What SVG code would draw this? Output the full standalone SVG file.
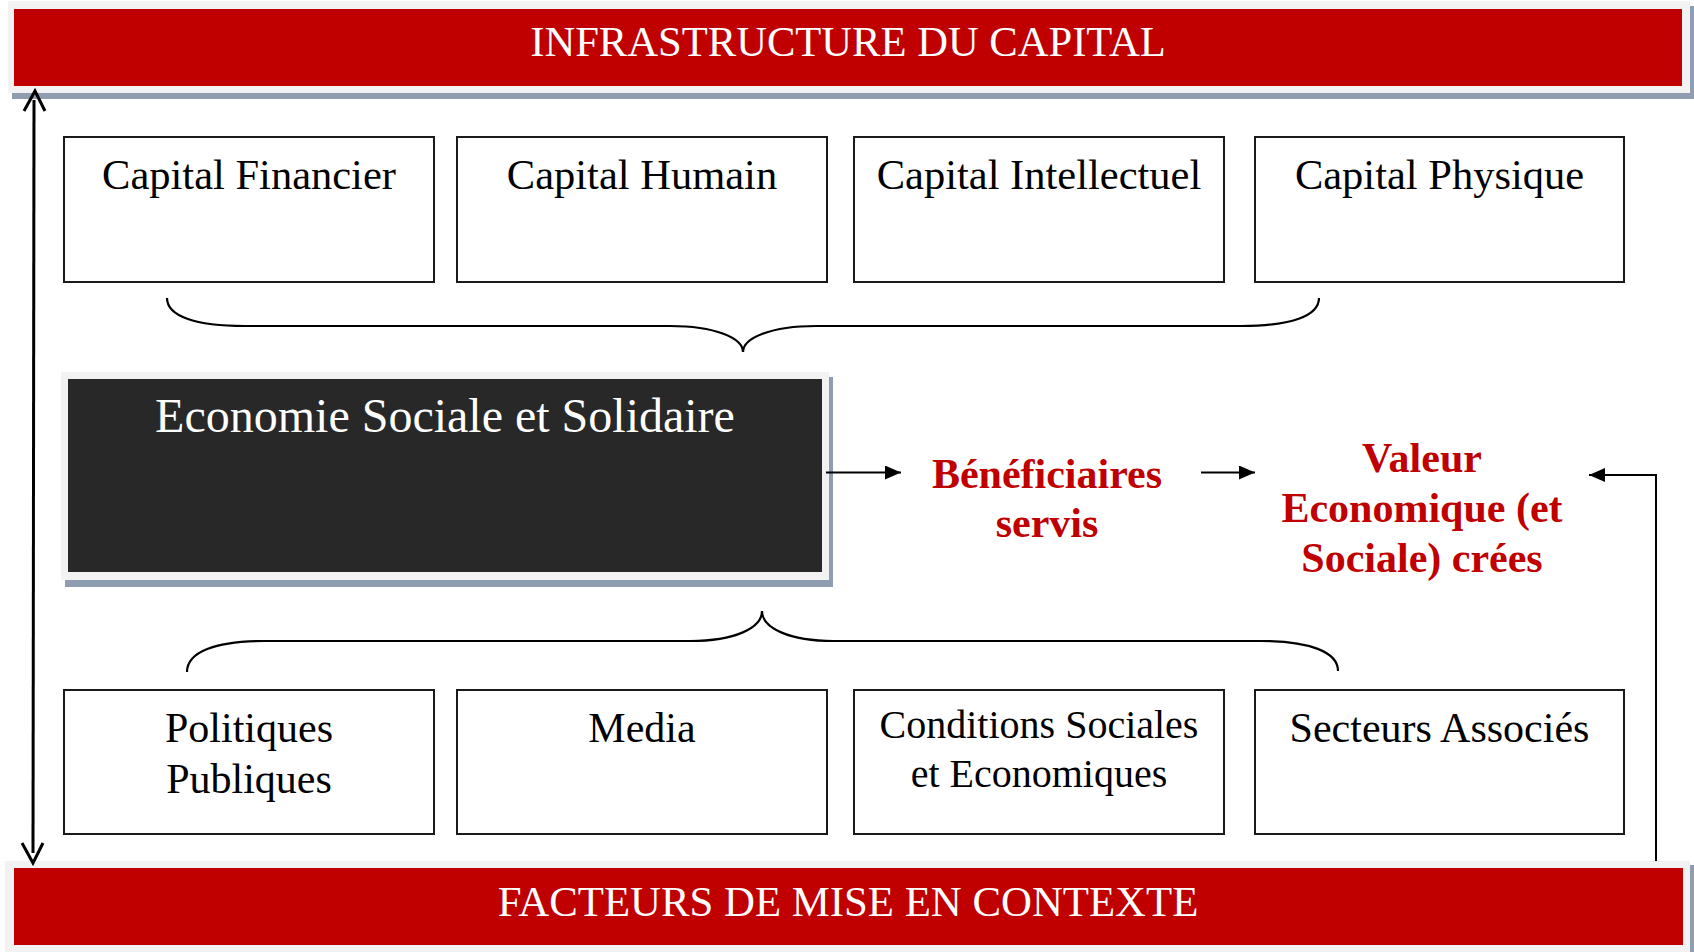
<svg xmlns="http://www.w3.org/2000/svg" width="1694" height="952" viewBox="0 0 1694 952">
<defs>
<style>
.box{fill:#fff;stroke:#1a1a1a;stroke-width:2}
.t{font-family:"Liberation Serif","Times New Roman",serif;fill:#000;text-anchor:middle}
.w{font-family:"Liberation Serif","Times New Roman",serif;fill:#fff;text-anchor:middle}
.r{font-family:"Liberation Serif","Times New Roman",serif;fill:#c00000;font-weight:bold;text-anchor:middle;font-size:42px}
.frame{fill:#f2f2f2}
.shadow{fill:#8e9db0}
.red{fill:#c00000}
.ln{fill:none;stroke:#000;stroke-width:2}
.brace{fill:none;stroke:#000;stroke-width:2.2}
</style>
<marker id="tri" viewBox="0 0 16 14" refX="16" refY="7" markerWidth="16" markerHeight="14" markerUnits="userSpaceOnUse" orient="auto">
<path d="M0,0 L16,7 L0,14 Z" fill="#000"/>
</marker>
</defs>

<g id="infrastructure">
<rect class="shadow" x="12" y="6" width="1682" height="93"/>
<rect class="frame" x="8" y="1" width="1682" height="92"/>
<rect class="red" x="14" y="9" width="1668" height="77"/>
<text class="w" x="848" y="56" font-size="42.6">INFRASTRUCTURE DU CAPITAL</text>
</g>

<g id="facteurs">
<rect class="shadow" x="10" y="865" width="1684" height="90"/>
<rect class="frame" x="5" y="861" width="1685" height="91"/>
<rect class="red" x="14" y="868" width="1669" height="77"/>
<text class="w" x="848" y="916" font-size="42.8">FACTEURS DE MISE EN CONTEXTE</text>
</g>

<g id="capital-financier"><rect class="box" x="64" y="137" width="370" height="145"/><text class="t" x="249" y="189" font-size="42.5">Capital Financier</text></g>
<g id="capital-humain"><rect class="box" x="457" y="137" width="370" height="145"/><text class="t" x="642" y="189" font-size="42.5">Capital Humain</text></g>
<g id="capital-intellectuel"><rect class="box" x="854" y="137" width="370" height="145"/><text class="t" x="1039" y="189" font-size="42.5">Capital Intellectuel</text></g>
<g id="capital-physique"><rect class="box" x="1255" y="137" width="369" height="145"/><text class="t" x="1439.5" y="189" font-size="42.5">Capital Physique</text></g>

<g id="ess">
<rect class="shadow" x="65" y="377" width="768" height="210"/>
<rect class="frame" x="61" y="372" width="768" height="208"/>
<rect x="68" y="379" width="754" height="193" fill="#282828"/>
<text class="w" x="445" y="432" font-size="48">Economie Sociale et Solidaire</text>
</g>

<g id="beneficiaires">
<text class="r" x="1047" y="488">Bénéficiaires</text>
<text class="r" x="1047" y="537">servis</text>
</g>

<g id="valeur">
<text class="r" x="1422" y="472">Valeur</text>
<text class="r" x="1422" y="522">Economique (et</text>
<text class="r" x="1422" y="572">Sociale) crées</text>
</g>

<g id="politiques"><rect class="box" x="64" y="690" width="370" height="144"/><text class="t" x="249" y="742" font-size="42">Politiques</text><text class="t" x="249" y="793" font-size="42">Publiques</text></g>
<g id="media"><rect class="box" x="457" y="690" width="370" height="144"/><text class="t" x="642" y="742" font-size="42">Media</text></g>
<g id="conditions"><rect class="box" x="854" y="690" width="370" height="144"/><text class="t" x="1039" y="738" font-size="40">Conditions Sociales</text><text class="t" x="1039" y="787" font-size="40">et Economiques</text></g>
<g id="secteurs"><rect class="box" x="1255" y="690" width="369" height="144"/><text class="t" x="1439.5" y="742" font-size="42">Secteurs Associés</text></g>

<g id="connectors">
<path class="brace" d="M167,298 C167,316 195,326 245,326 L670,326 C715,326 743,338 743,352 C743,338 771,326 816,326 L1241,326 C1291,326 1319,316 1319,298"/>
<path class="brace" d="M187,672 C187,652 215,641 265,641 L690,641 C735,641 762,628 762,611 C762,628 789,641 834,641 L1260,641 C1310,641 1338,652 1338,671"/>
<line x1="34" y1="100" x2="33" y2="853" stroke="#000" stroke-width="3"/>
<path d="M24,111 L35,91 L45,111" fill="none" stroke="#000" stroke-width="3"/>
<path d="M22,843 L33,863 L43,843" fill="none" stroke="#000" stroke-width="3"/>
<line class="ln" x1="826" y1="472.5" x2="901" y2="472.5" marker-end="url(#tri)"/>
<line class="ln" x1="1201" y1="472.5" x2="1255" y2="472.5" marker-end="url(#tri)"/>
<polyline class="ln" points="1656,861 1656,475 1589,475" marker-end="url(#tri)"/>
</g>
</svg>
